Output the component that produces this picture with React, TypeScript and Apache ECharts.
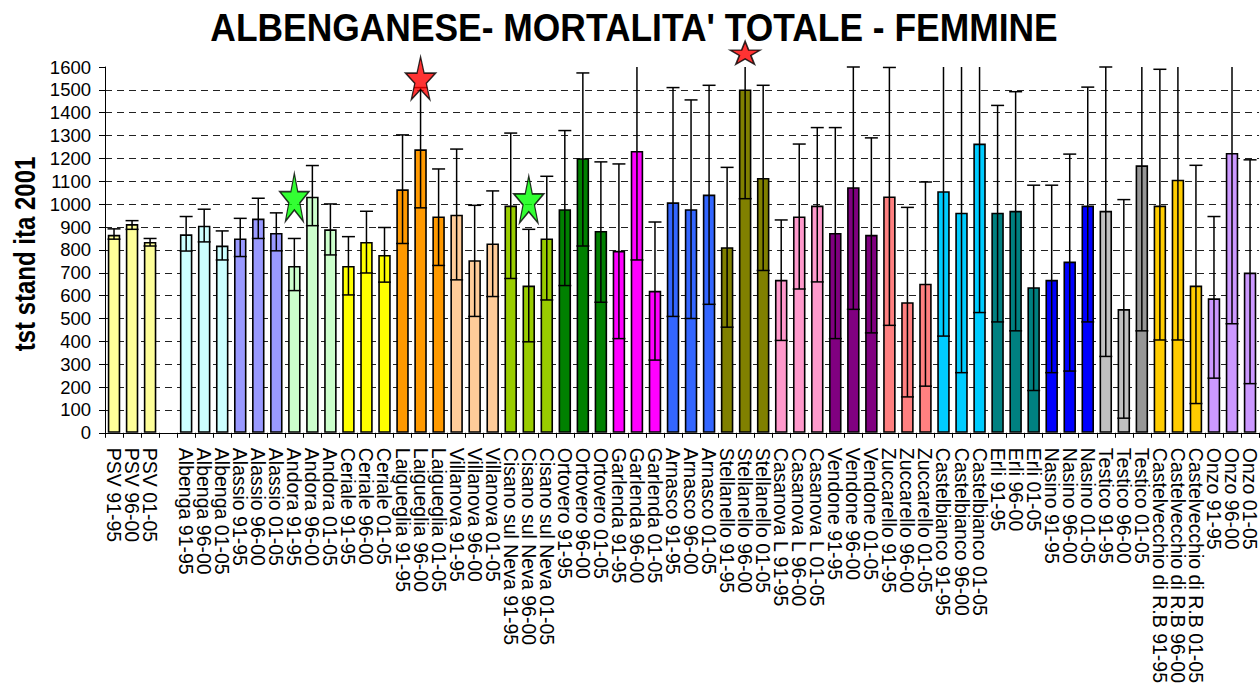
import React, { useEffect, useRef } from "react";
import * as echarts from "echarts";

const categories = [
  "PSV 91-95", "PSV 96-00", "PSV 01-05", "",
  "Albenga 91-95", "Albenga 96-00", "Albenga 01-05",
  "Alassio 91-95", "Alassio 96-00", "Alassio 01-05",
  "Andora 91-95", "Andora 96-00", "Andora 01-05",
  "Ceriale 91-95", "Ceriale 96-00", "Ceriale 01-05",
  "Laigueglia 91-95", "Laigueglia 96-00", "Laigueglia 01-05",
  "Villanova 91-95", "Villanova 96-00", "Villanova 01-05",
  "Cisano sul Neva 91-95", "Cisano sul Neva 96-00", "Cisano sul Neva 01-05",
  "Ortovero 91-95", "Ortovero 96-00", "Ortovero 01-05",
  "Garlenda 91-95", "Garlenda 96-00", "Garlenda 01-05",
  "Arnasco 91-95", "Arnasco 96-00", "Arnasco 01-05",
  "Stellanello 91-95", "Stellanello 96-00", "Stellanello 01-05",
  "Casanova L 91-95", "Casanova L 96-00", "Casanova L 01-05",
  "Vendone 91-95", "Vendone 96-00", "Vendone 01-05",
  "Zuccarello 91-95", "Zuccarello 96-00", "Zuccarello 01-05",
  "Castelbianco 91-95", "Castelbianco 96-00", "Castelbianco 01-05",
  "Erli 91-95", "Erli 96-00", "Erli 01-05",
  "Nasino 91-95", "Nasino 96-00", "Nasino 01-05",
  "Testico 91-95", "Testico 96-00", "Testico 01-05",
  "Castelvecchio di R.B 91-95", "Castelvecchio di R.B 96-00", "Castelvecchio di R.B 01-05",
  "Onzo 91-95", "Onzo 96-00", "Onzo 01-05",
];

const values = [
  866, 913, 835, null,
  868, 906, 819,
  850, 937, 874,
  730, 1033, 890,
  730, 835, 778,
  1065, 1240, 946,
  954, 755, 828,
  994, 644, 850,
  978, 1201, 883,
  796, 1233, 621,
  1008, 978, 1042,
  812, 1502, 1115,
  669, 946, 994,
  874, 1074, 866,
  1034, 571, 652,
  1057, 963, 1265,
  963, 971, 637,
  669, 749, 994,
  971, 541, 1170,
  994, 1107, 644,
  588, 1224, 701,
];

const lower = [
  847, 890, 817, null,
  795, 835, 756,
  771, 850, 796,
  622, 906, 778,
  603, 699, 659,
  828, 984, 732,
  669, 509, 596,
  675, 398, 581,
  644, 817, 571,
  412, 756, 318,
  509, 500, 562,
  462, 1024, 710,
  404, 629, 660,
  412, 540, 437,
  470, 157, 204,
  423, 263, 526,
  485, 446, 185,
  263, 270, 485,
  334, 64, 446,
  406, 406, 128,
  239, 477, 215,
];

const upper = [
  892, 928, 850, null,
  946, 978, 883,
  938, 1026, 962,
  850, 1169, 1001,
  858, 969, 898,
  1303, 1510, 1154,
  1241, 995, 1058,
  1311, 890, 1122,
  1322, 1574, 1185,
  1176, 1700, 922,
  1510, 1456, 1520,
  1161, 1980, 1520,
  931, 1263, 1335,
  1335, 1600, 1290,
  1598, 986, 1097,
  1750, 1750, 2000,
  1432, 1492, 1083,
  1083, 1219, 1512,
  1600, 1020, 1900,
  1590, 1800, 1170,
  946, 1970, 1194,
];

const barColors = [
  "#FFFF99", "#FFFF99", "#FFFF99", "#FFFFFF",
  "#CCFFFF", "#CCFFFF", "#CCFFFF",
  "#9999FF", "#9999FF", "#9999FF",
  "#CCFFCC", "#CCFFCC", "#CCFFCC",
  "#FFFF00", "#FFFF00", "#FFFF00",
  "#FF9900", "#FF9900", "#FF9900",
  "#FFCC99", "#FFCC99", "#FFCC99",
  "#99CC00", "#99CC00", "#99CC00",
  "#008000", "#008000", "#008000",
  "#FF00FF", "#FF00FF", "#FF00FF",
  "#3366FF", "#3366FF", "#3366FF",
  "#808000", "#808000", "#808000",
  "#FF99CC", "#FF99CC", "#FF99CC",
  "#800080", "#800080", "#800080",
  "#FF8080", "#FF8080", "#FF8080",
  "#00CCFF", "#00CCFF", "#00CCFF",
  "#008080", "#008080", "#008080",
  "#0000FF", "#0000FF", "#0000FF",
  "#C0C0C0", "#C0C0C0", "#969696",
  "#FFCC00", "#FFCC00", "#FFCC00",
  "#CC99FF", "#CC99FF", "#CC99FF",
];

// star markers: category index and value
const starIndex = [10, 23, 17, 35];
const starValue = [1030, 1021, 1551, 1662];
const starColors = ["#00FF00", "#00FF00", "#FF0000", "#FF0000"];
const starSizes = [[29, 48], [30, 47], [30, 43], [30, 23]];

const TITLE = "ALBENGANESE- MORTALITA' TOTALE - FEMMINE";
const Y_NAME = "tst stand ita 2001";
const FONT = '"Liberation Sans", Arial, Helvetica, sans-serif';

const STAR_PATH =
  "path://M100,0L122.45,69.1L195.1,69.1L136.3,111.8L158.8,180.9L100,138.2L41.2,180.9L63.7,111.8L4.9,69.1L77.55,69.1Z";

export default function App() {
  const ref = useRef<HTMLDivElement>(null);

  useEffect(() => {
    if (!ref.current) return;
    const chart = echarts.init(ref.current, undefined, { renderer: "svg" });

    const barData = values.map((v, i) => ({
      value: v,
      itemStyle: { color: barColors[i] },
    }));

    const errData: any[] = [];
    values.forEach((v, i) => {
      if (v !== null) errData.push([i, lower[i], upper[i]]);
    });

    const starData = starIndex.map((c, i) => ({
      value: [c, starValue[i]],
      symbolSize: starSizes[i],
      itemStyle: { color: starColors[i], borderColor: "#000", borderWidth: 1.5 },
    }));

    const option: any = {
      animation: false,
      backgroundColor: "#FFFFFF",
      textStyle: { fontFamily: FONT },
      grid: { left: 105, top: 67, width: 1159, bottom: 253, containLabel: false },
      xAxis: {
        type: "category",
        data: categories,
        axisLine: { show: true, lineStyle: { color: "#000", width: 1 } },
        axisTick: { show: true, interval: 0, length: 5, lineStyle: { color: "#000" } },
        axisLabel: {
          interval: 0,
          rotate: -90,
          fontSize: 19.5,
          color: "#000",
          margin: 15,
          fontFamily: FONT,
        },
        splitLine: { show: false },
      },
      yAxis: {
        type: "value",
        min: 0,
        max: 1600,
        interval: 100,
        axisLine: { show: true, lineStyle: { color: "#000", width: 1 } },
        axisTick: { show: true, length: 6, lineStyle: { color: "#000" } },
        axisLabel: {
          fontSize: 18.5,
          color: "#000",
          margin: 14,
          fontFamily: FONT,
          formatter: (v: number) => String(v),
        },
        splitLine: {
          show: true,
          showMaxLine: false,
          lineStyle: { color: "#222", width: 1, type: [7, 5] },
        },
      },
      graphic: [
        {
          type: "text",
          x: 634,
          y: 27,
          scaleY: 1.12,
          style: {
            text: TITLE,
            font: `bold 35.4px ${FONT}`,
            fill: "#000",
            align: "center",
            verticalAlign: "middle",
          },
        },
        {
          type: "text",
          x: 25,
          y: 254,
          rotation: Math.PI / 2,
          scaleY: 1.2,
          style: {
            text: Y_NAME,
            font: `bold 24px ${FONT}`,
            fill: "#000",
            align: "center",
            verticalAlign: "middle",
          },
        },
      ],
      series: [
        {
          type: "bar",
          data: barData,
          barWidth: 12.5,
          itemStyle: { borderColor: "#000", borderWidth: 1.6 },
          z: 2,
        },
        {
          type: "custom",
          data: errData,
          encode: { x: 0, y: [1, 2] },
          z: 3,
          renderItem: (params: any, api: any) => {
            const idx = api.value(0);
            const lo = api.value(1);
            const hi = api.value(2);
            const cs = params.coordSys;
            const pLo = api.coord([idx, lo]);
            const pHi = api.coord([idx, hi]);
            const clipped = pHi[1] < cs.y - 0.5;
            const topY = Math.max(pHi[1], cs.y);
            const half = 6.5;
            const style = { stroke: "#000", lineWidth: 1.5 };
            const children: any[] = [
              { type: "line", shape: { x1: pLo[0], y1: pLo[1], x2: pLo[0], y2: topY }, style },
              { type: "line", shape: { x1: pLo[0] - half, y1: pLo[1], x2: pLo[0] + half, y2: pLo[1] }, style },
            ];
            if (!clipped) {
              children.push({
                type: "line",
                shape: { x1: pHi[0] - half, y1: pHi[1], x2: pHi[0] + half, y2: pHi[1] },
                style,
              });
            }
            return { type: "group", children };
          },
        },
        {
          type: "scatter",
          data: starData,
          symbol: STAR_PATH,
          symbolKeepAspect: false,
          clip: false,
          z: 5,
        },
      ],
    };

    chart.setOption(option);
    return () => chart.dispose();
  }, []);

  return (
    <div
      ref={ref}
      style={{ position: "fixed", left: 0, top: 0, width: 1260, height: 686, background: "#fff" }}
    />
  );
}
